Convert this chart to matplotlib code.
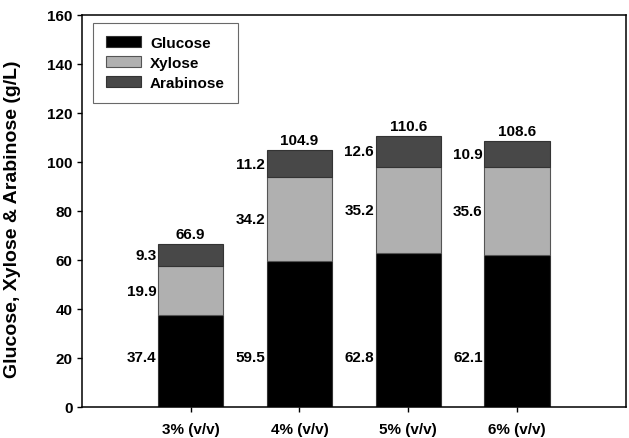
import matplotlib
matplotlib.use('Agg')
import matplotlib.pyplot as plt
import numpy as np

plt.rcParams['font.family'] = ['Liberation Sans', 'DejaVu Sans']
plt.rcParams['font.weight'] = 'bold'

categories = ['3% (v/v)', '4% (v/v)', '5% (v/v)', '6% (v/v)']
glucose = [37.4, 59.5, 62.8, 62.1]
xylose = [19.9, 34.2, 35.2, 35.6]
arabinose = [9.3, 11.2, 12.6, 10.9]
totals = [66.9, 104.9, 110.6, 108.6]

fig = plt.figure(figsize=(6.29, 4.39), dpi=100)
ax = fig.add_axes([0.130, 0.071, 0.865, 0.893])

x = np.arange(1, len(categories) + 1)
w = 0.6
g = np.array(glucose)
xy = np.array(xylose)
ar = np.array(arabinose)

ax.bar(x, g, w, color='black', edgecolor='#333333', linewidth=0.8, label='Glucose')
ax.bar(x, xy, w, bottom=g, color='#b0b0b0', edgecolor='#555555', linewidth=0.8, label='Xylose')
ax.bar(x, ar, w, bottom=g + xy, color='#484848', edgecolor='#333333', linewidth=0.8, label='Arabinose')

fs = 11
for i in range(len(x)):
    left = x[i] - w / 2 - 0.015
    ax.text(left, 20.5, '%.1f' % glucose[i], ha='right', va='center', fontsize=fs, fontweight='bold')
    ax.text(left, g[i] + xy[i] / 2, '%.1f' % xylose[i], ha='right', va='center', fontsize=fs, fontweight='bold')
    ax.text(left, g[i] + xy[i] + ar[i] / 2, '%.1f' % arabinose[i], ha='right', va='center', fontsize=fs, fontweight='bold')
    top = g[i] + xy[i] + ar[i]
    ax.annotate('%.1f' % totals[i], (x[i], top), xytext=(0, 2), textcoords='offset points',
                ha='center', va='bottom', fontsize=fs, fontweight='bold')

ax.set_xlim(0, 5)
ax.set_ylim(0, 160)
ax.set_yticks(range(0, 161, 20))
ax.set_xticks(x)
ax.set_xticklabels(categories)
ax.tick_params(axis='both', direction='out', length=3.6, width=1, labelsize=fs, pad=3)
ax.tick_params(axis='x', pad=7)
for s in ax.spines.values():
    s.set_linewidth(1.1)
ax.set_ylabel('Glucose, Xylose & Arabinose (g/L)', fontsize=14, fontweight='bold', labelpad=10)
ax.yaxis.set_label_coords(-0.112, 0.48)

leg = ax.legend(loc='upper left', bbox_to_anchor=(0.02, 0.98), fontsize=fs, frameon=True, fancybox=False,
                edgecolor='#444444', handlelength=2.3, handleheight=0.75, handletextpad=0.6,
                borderpad=0.85, labelspacing=0.4, borderaxespad=0)
leg.get_frame().set_linewidth(0.8)

fig.savefig('out.png', dpi=100)
